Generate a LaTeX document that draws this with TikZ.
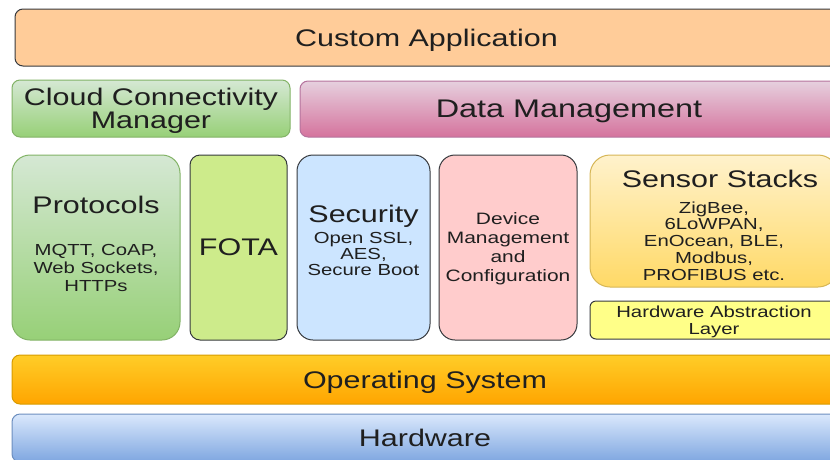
\documentclass[tikz,border=0pt]{standalone}
\usepackage{fontspec}
\setmainfont{Liberation Sans}[FakeStretch=1.27]
\usepackage{tikz}
\definecolor{iotink}{HTML}{1F1F1F}
\definecolor{iotline}{HTML}{36393D}
\definecolor{iotpeach}{HTML}{FFCC99}
\definecolor{iotgreenhi}{HTML}{D5E8D4}
\definecolor{iotgreenlo}{HTML}{97D077}
\definecolor{iotgreenln}{HTML}{82B366}
\definecolor{iotpinkhi}{HTML}{E6D0DE}
\definecolor{iotpinklo}{HTML}{D5739D}
\definecolor{iotpinkln}{HTML}{B5739D}
\definecolor{iotlime}{HTML}{CDEB8B}
\definecolor{iotsky}{HTML}{CCE5FF}
\definecolor{iotrose}{HTML}{FFCCCC}
\definecolor{iotsandhi}{HTML}{FFF2CC}
\definecolor{iotsandlo}{HTML}{FFD966}
\definecolor{iotsandln}{HTML}{D6B656}
\definecolor{iotlemon}{HTML}{FFFF88}
\definecolor{iotorghi}{HTML}{FFCD28}
\definecolor{iotorglo}{HTML}{FFA500}
\definecolor{iotorgln}{HTML}{D79B00}
\definecolor{iotbluehi}{HTML}{DAE8FC}
\definecolor{iotbluelo}{HTML}{7EA6E0}
\definecolor{iotblueln}{HTML}{6C8EBF}
\newcommand\lyrfont{\fontsize{24}{23}\selectfont}

\begin{document}
\begin{tikzpicture}[x=1pt,y=-1pt,
  box/.style={draw=iotline,line width=1pt,rounded corners=8pt,inner sep=0pt,
    align=center,text=iotink,font=\lyrfont,text depth=0pt},
  lbl/.style={inner sep=0pt,align=center,text=iotink,font=\lyrfont,text depth=0pt},
  sub/.style={inner sep=0pt,align=center,text=iotink,font=\fontsize{16}{#1}\selectfont}]
\useasboundingbox (0,0) rectangle (830,459);
\clip (0,0) rectangle (830,459);
% application and service layers
\node[box,fill=iotpeach,minimum width=823pt,minimum height=57pt] (app) at (426.5,37.5) {Custom Application};
\node[box,draw=iotgreenln,top color=iotgreenhi,bottom color=iotgreenlo,
  minimum width=278pt,minimum height=57pt] (cloud) at (151,108.5) {Cloud Connectivity\\Manager};
\node[box,draw=iotpinkln,top color=iotpinkhi,bottom color=iotpinklo,
  minimum width=538pt,minimum height=56pt,font=\fontsize{25.5}{25}\selectfont] (data) at (569,109) {Data Management};
% middle row of blocks
\node[box,rounded corners=18pt,draw=iotgreenln,top color=iotgreenhi,bottom color=iotgreenlo,
  minimum width=168pt,minimum height=185pt] (proto) at (96,247.5) {};
\node[lbl] (protoT) at (96,205) {Protocols};
\node[sub=18] (protoS) at (96,268) {MQTT, CoAP,\\Web Sockets,\\HTTPs};
\node[box,rounded corners=10pt,fill=iotlime,minimum width=97pt,minimum height=185pt] (fota) at (238.5,247.5) {FOTA};
\node[box,rounded corners=16pt,fill=iotsky,minimum width=133pt,minimum height=185pt] (sec) at (363.5,247.5) {};
\node[lbl] (secT) at (363.5,214) {Security};
\node[sub=16] (secS) at (363.5,254) {Open SSL,\\AES,\\Secure Boot};
\node[box,rounded corners=16pt,fill=iotrose,minimum width=138pt,minimum height=185pt,
  font=\fontsize{16.5}{19}\selectfont] (dev) at (508,247.5) {Device\\Management\\and\\Configuration};
\node[box,rounded corners=20pt,draw=iotsandln,top color=iotsandhi,bottom color=iotsandlo,
  minimum width=248pt,minimum height=132pt] (sens) at (714,221) {};
\node[lbl] (sensT) at (720,179) {Sensor Stacks};
\node[sub=16.8] (sensS) at (714,241) {ZigBee,\\6LoWPAN,\\EnOcean, BLE,\\Modbus,\\PROFIBUS etc.};
\node[box,rounded corners=6pt,fill=iotlemon,minimum width=248pt,minimum height=38pt,
  font=\fontsize{16}{17}\selectfont] (hal) at (714,320) {Hardware Abstraction\\Layer};
% base layers
\node[box,draw=iotorgln,top color=iotorghi,bottom color=iotorglo,
  minimum width=826pt,minimum height=49pt] (os) at (425,379.5) {Operating System};
\node[box,draw=iotblueln,top color=iotbluehi,bottom color=iotbluelo,
  minimum width=826pt,minimum height=48pt] (hw) at (425,438) {Hardware};
\end{tikzpicture}
\end{document}
